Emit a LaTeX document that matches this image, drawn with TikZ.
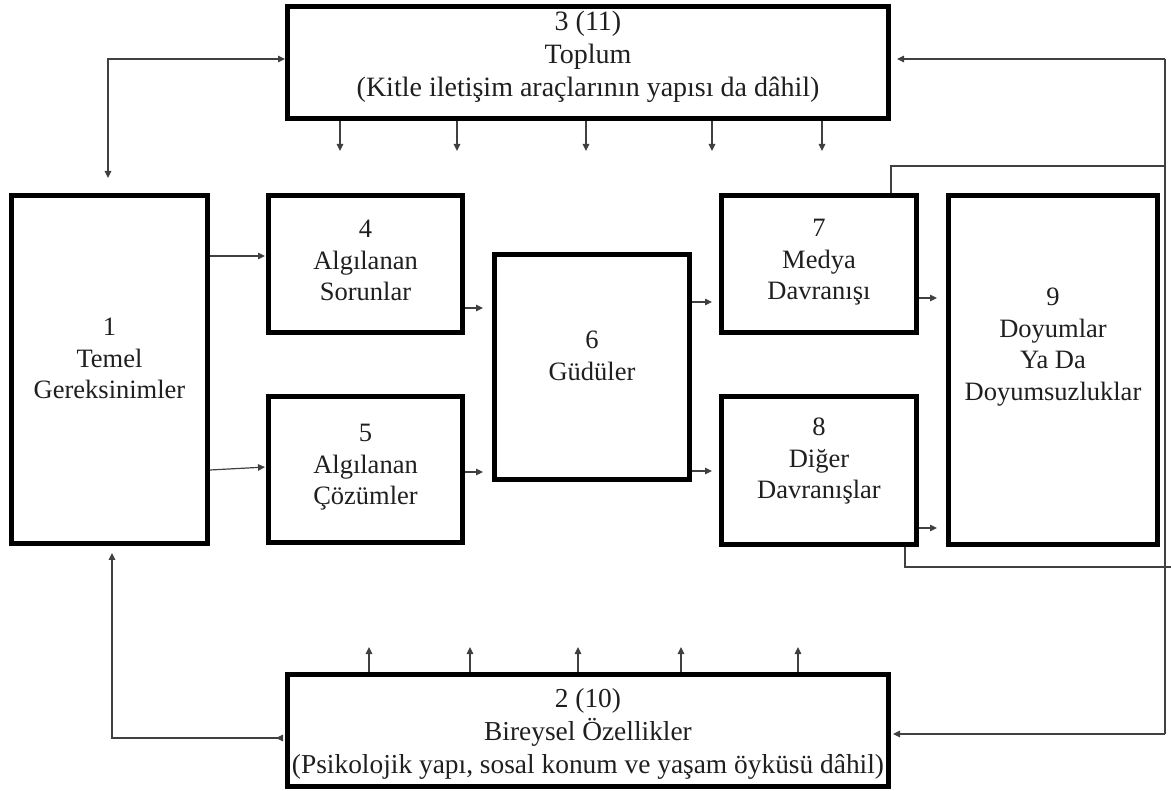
\documentclass[tikz,border=0pt]{standalone}
\usepackage{fontspec}
\setmainfont{Liberation Serif}
\usetikzlibrary{arrows.meta}
\tikzset{
  box/.style={draw=black, line width=5pt, inner sep=0pt},
  lbl/.style={inner sep=0pt, align=center, text=black!88,
    font=\fontsize{26.5}{31.5}\selectfont},
  lblbig/.style={lbl, font=\fontsize{28}{33}\selectfont},
  ln/.style={line width=1.2pt, draw=black!75},
  Tri/.tip={Triangle[length=7pt,width=6.5pt]},
  arr/.style={ln, -Tri},
}
\begin{document}
\begin{tikzpicture}[x=1pt,y=-1pt]
\fill[white] (0,0) rectangle (1171,791);
\useasboundingbox (0,0) rectangle (1171,791);

% boxes with their captions
\node[box, minimum width=601pt, minimum height=112pt,
  label={[lblbig, anchor=north, yshift=-7pt]north:{3 (11)\\Toplum\\(Kitle iletişim araçlarının yapısı da dâhil)}}]
  (b3) at (588,62.5) {};
\node[box, minimum width=601pt, minimum height=112pt,
  label={[lblbig, font=\fontsize{27.4}{33}\selectfont, anchor=north, yshift=-16pt]north:{2 (10)\\Bireysel Özellikler\\(Psikolojik yapı, sosal konum ve yaşam öyküsü dâhil)}}]
  (b2) at (588,730.5) {};
\node[box, minimum width=196pt, minimum height=348pt,
  label={[lbl, anchor=north, yshift=-125pt]north:{1\\Temel\\Gereksinimler}}]
  (b1) at (109.5,369.5) {};
\node[box, minimum width=194pt, minimum height=137pt,
  label={[lbl, anchor=north, yshift=-27pt]north:{4\\Algılanan\\Sorunlar}}]
  (b4) at (365.5,264) {};
\node[box, minimum width=194pt, minimum height=146pt,
  label={[lbl, anchor=north, yshift=-30pt]north:{5\\Algılanan\\Çözümler}}]
  (b5) at (365.5,469.5) {};
\node[box, minimum width=195pt, minimum height=225pt,
  label={[lbl, anchor=north, yshift=-79pt]north:{6\\Güdüler}}]
  (b6) at (592,367) {};
\node[box, minimum width=195pt, minimum height=137pt,
  label={[lbl, anchor=north, yshift=-26pt]north:{7\\Medya\\Davranışı}}]
  (b7) at (819,264) {};
\node[box, minimum width=195pt, minimum height=148pt,
  label={[lbl, anchor=north, yshift=-24pt]north:{8\\Diğer\\Davranışlar}}]
  (b8) at (819,470.5) {};
\node[box, minimum width=209pt, minimum height=349pt,
  label={[lbl, anchor=north, yshift=-95pt]north:{9\\Doyumlar\\Ya Da\\Doyumsuzluklar}}]
  (b9) at (1053,370) {};

% flow between the inner boxes
\draw[arr, shorten >=1pt] (b1.east |- 0,256) -- (b4.west |- 0,256);
\draw[arr, shorten >=1pt] (b1.east |- 0,470) -- (b5.west |- 0,467);
\draw[arr, shorten >=9pt] (b4.east |- 0,308) -- (b6.west |- 0,308);
\draw[arr, shorten >=9pt] (b5.east |- 0,472) -- (b6.west |- 0,472);
\draw[arr, shorten >=7pt] (b6.east |- 0,302) -- (b7.west |- 0,302);
\draw[arr, shorten >=7pt] (b6.east |- 0,471) -- (b8.west |- 0,471);
\draw[arr, shorten >=9pt] (b7.east |- 0,298) -- (b9.west |- 0,298);
\draw[arr, shorten >=9pt] (b8.east |- 0,528) -- (b9.west |- 0,528);

% society acts downwards, individual traits act upwards
\foreach \x in {340,457,586,712,822}
  \draw[arr] (b3.south -| \x,0) -- ++(0,30);
\foreach \x in {369,470,578,681,798}
  \draw[arr] (b2.north -| \x,0) -- ++(0,-25);

% left loops
\coordinate (tl) at (108,59);
\coordinate (bl) at (112,738);
\draw[ln, Tri-Tri, shorten >=15pt] (b3.west |- tl) -- (tl) -- (b1.north -| tl);
\draw[ln, {Triangle[reversed,length=7pt,width=6.5pt]}-Tri, shorten >=7pt, shorten <=2pt]
  (b2.west |- bl) -- (bl) -- (b1.south -| bl);

% right feedback loop
\coordinate (r1) at (1165,59);
\coordinate (r2) at (1165,734);
\coordinate (r7) at (1165,166);
\coordinate (e8) at (1171,567);
\draw[ln] (r1) -- (r2);
\draw[arr, shorten >=6pt] (r1) -- (b3.east |- r1);
\draw[arr, shorten >=2pt] (r2) -- (b2.east |- r2);
\draw[ln] ([xshift=72pt]b7.north) |- (r7);
\draw[ln] ([xshift=86pt]b8.south) |- (e8);
\end{tikzpicture}
\end{document}
